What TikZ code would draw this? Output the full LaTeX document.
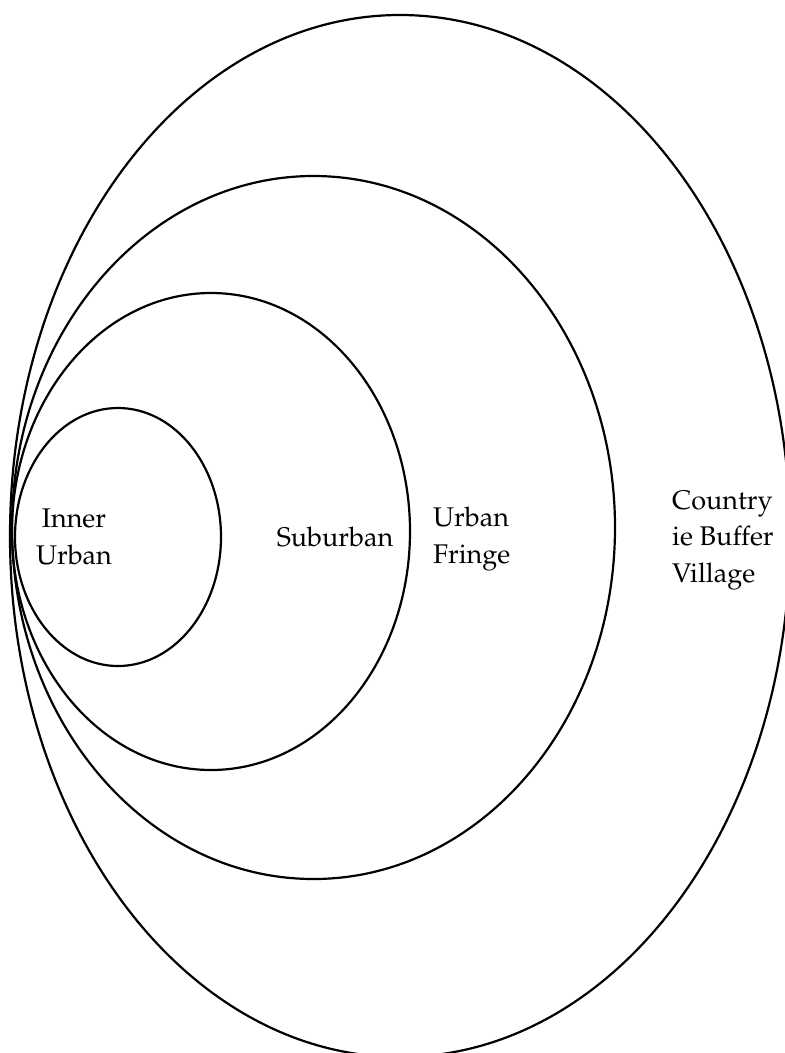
\documentclass[tikz,border=0pt]{standalone}
\usepackage[T1]{fontenc}
\usepackage{mathpazo}
\begin{document}
\begin{tikzpicture}[x=1pt,y=-1pt,
  ring/.style={draw=black,line width=2.2pt},
  lbl/.style={font=\fontsize{27}{36.5}\selectfont,inner sep=0pt}]
\useasboundingbox (0,0) rectangle (785,1053);
\begin{scope}
\clip (0,0) rectangle (785,1053);
\draw[ring] (400,536) ellipse [x radius=390, y radius=521];
\end{scope}
\draw[ring] (313.5,527.5) ellipse [x radius=301.5, y radius=351.5];
\draw[ring] (211,531.5) ellipse [x radius=199, y radius=238.5];
\draw[ring] (118,537) ellipse [x radius=103, y radius=129];
\node[lbl,align=center,anchor=base] (inner) at (74,564) {Inner\\Urban};
\node[lbl,anchor=base] (sub) at (335,546) {Suburban};
\node[lbl,align=left,anchor=base west] (fringe) at (433,563) {Urban\\Fringe};
\node[lbl,align=left,anchor=base west] (country) at (672,582) {Country\\ie Buffer\\Village};
\end{tikzpicture}
\end{document}
